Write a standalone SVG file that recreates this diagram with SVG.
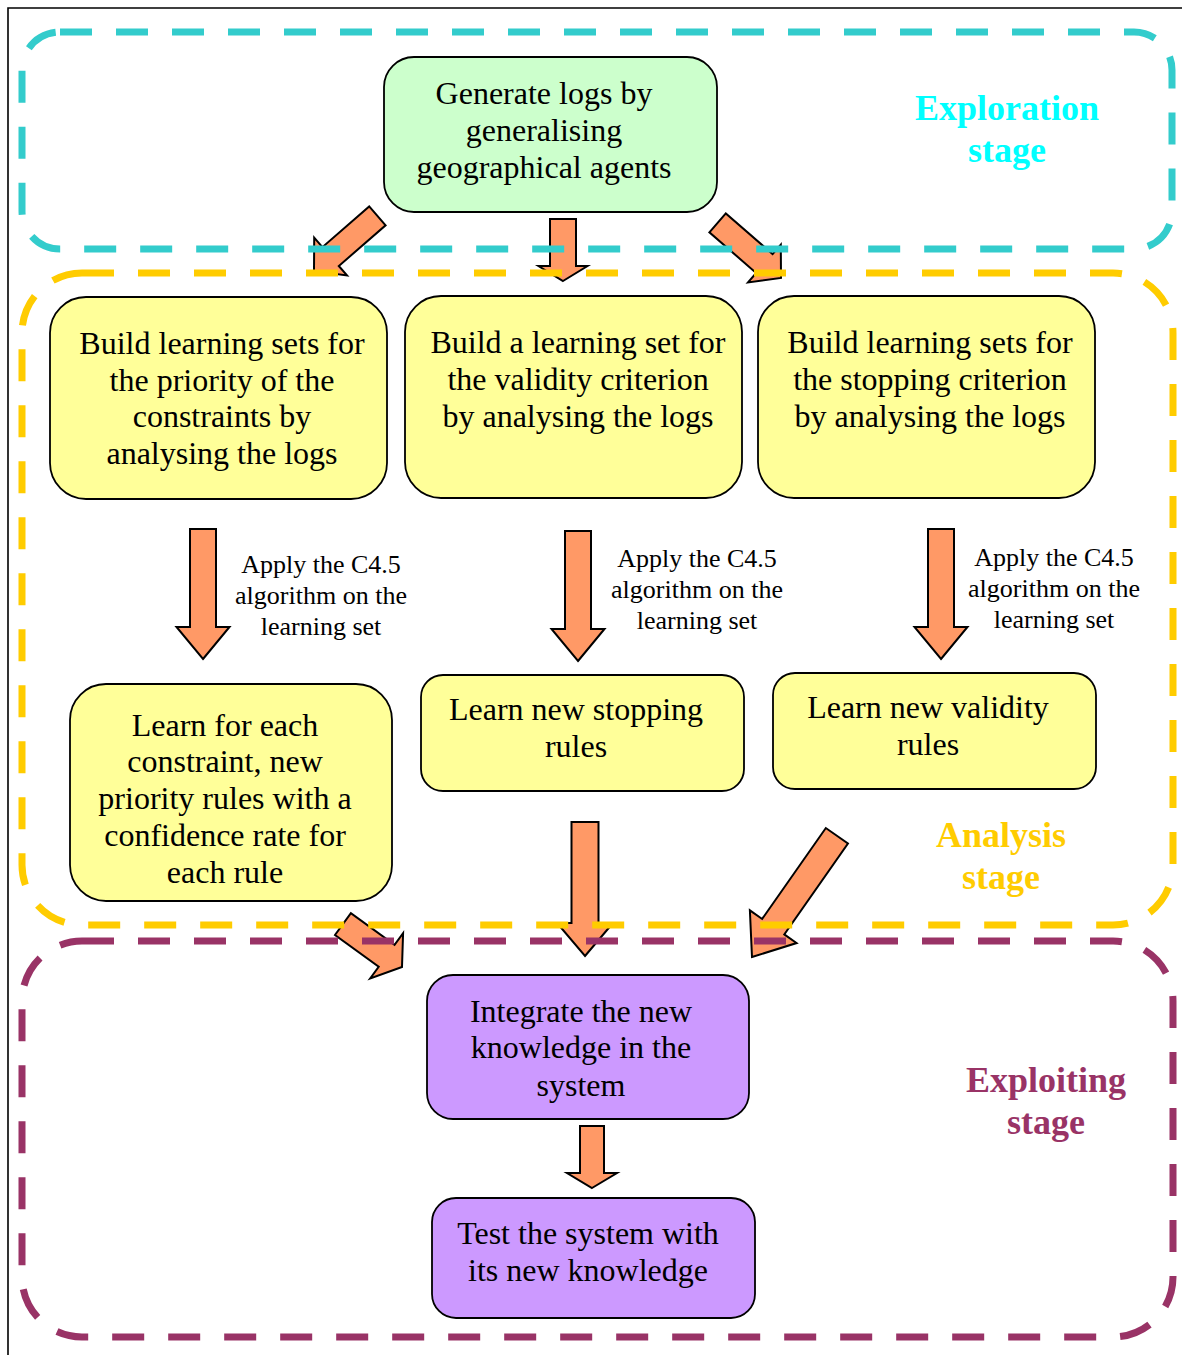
<svg xmlns="http://www.w3.org/2000/svg" width="1182" height="1355" viewBox="0 0 1182 1355">
<style>
.frame{fill:none;stroke:#000;stroke-width:1.6}
.stage{fill:none;stroke-width:7;stroke-dasharray:32 24}
.green{fill:#CCFFCC;stroke:#000;stroke-width:1.8}
.yellow{fill:#FFFF99;stroke:#000;stroke-width:1.8}
.purple{fill:#CC99FF;stroke:#000;stroke-width:1.8}
.arrow{fill:#FF9966;stroke:#000;stroke-width:2;stroke-linejoin:miter}
.t{font-family:"Liberation Serif","Times New Roman",serif;font-size:32px;text-anchor:middle;fill:#000}
.lbl{font-family:"Liberation Serif","Times New Roman",serif;font-size:26px;text-anchor:middle;fill:#000}
.st{font-family:"Liberation Serif","Times New Roman",serif;font-size:36px;font-weight:bold;text-anchor:middle}
</style>
<rect width="1182" height="1355" fill="#fff"/>
<path class="frame" d="M8,1355 V8 H1182"/>

<g id="connectors">
<polygon class="arrow" transform="translate(314,271) rotate(139)" points="0,0 -22,-25 -22,-12.5 -84,-12.5 -84,12.5 -22,12.5 -22,25"/>
<polygon class="arrow" transform="translate(563,281) rotate(90)" points="0,0 -15,-24.5 -15,-13 -62,-13 -62,13 -15,13 -15,24.5"/>
<polygon class="arrow" transform="translate(781,278) rotate(41)" points="0,0 -22,-25 -22,-12.5 -84,-12.5 -84,12.5 -22,12.5 -22,25"/>
<polygon class="arrow" transform="translate(203,659) rotate(90)" points="0,0 -32,-26.5 -32,-13 -130,-13 -130,13 -32,13 -32,26.5"/>
<polygon class="arrow" transform="translate(578,661) rotate(90)" points="0,0 -32,-26.5 -32,-13 -130,-13 -130,13 -32,13 -32,26.5"/>
<polygon class="arrow" transform="translate(941,659) rotate(90)" points="0,0 -32,-26.5 -32,-13 -130,-13 -130,13 -32,13 -32,26.5"/>
<polygon class="arrow" transform="translate(402,967) rotate(36)" points="0,0 -19,-28 -19,-13.5 -73,-13.5 -73,13.5 -19,13.5 -19,28"/>
<polygon class="arrow" transform="translate(585,956) rotate(90)" points="0,0 -33,-28 -33,-13.5 -134,-13.5 -134,13.5 -33,13.5 -33,28"/>
<polygon class="arrow" transform="translate(752,957) rotate(125)" points="0,0 -37,-28.5 -37,-13.5 -148,-13.5 -148,13.5 -37,13.5 -37,28.5"/>
<polygon class="arrow" transform="translate(592,1188) rotate(90)" points="0,0 -15,-25 -15,-12 -62,-12 -62,12 -15,12 -15,25"/>
</g>

<g id="stages">
<rect class="stage" x="22" y="32" width="1150" height="217" rx="38" stroke="#33CCCC"/>
<rect class="stage" x="22" y="273" width="1151" height="652" rx="60" stroke="#FFCC00"/>
<rect class="stage" x="22" y="941" width="1151" height="396" rx="60" stroke="#993366"/>
<text class="st" fill="#00FFFF"><tspan x="1007" y="120">Exploration</tspan><tspan x="1007" y="162">stage</tspan></text>
<text class="st" fill="#FFCC00"><tspan x="1001" y="847">Analysis</tspan><tspan x="1001" y="889">stage</tspan></text>
<text class="st" fill="#993366"><tspan x="1046" y="1092">Exploiting</tspan><tspan x="1046" y="1134">stage</tspan></text>
</g>

<g id="n-generate">
<rect class="green" x="384" y="57" width="333" height="155" rx="30"/>
<text class="t"><tspan x="544" y="104">Generate logs by</tspan><tspan x="544" y="141">generalising</tspan><tspan x="544" y="178">geographical agents</tspan></text>
</g>
<g id="n-build-priority">
<rect class="yellow" x="50" y="297" width="337" height="202" rx="36"/>
<text class="t"><tspan x="222" y="354">Build learning sets for</tspan><tspan x="222" y="391">the priority of the</tspan><tspan x="222" y="427">constraints by</tspan><tspan x="222" y="464">analysing the logs</tspan></text>
</g>
<g id="n-build-validity">
<rect class="yellow" x="405" y="296" width="337" height="202" rx="36"/>
<text class="t"><tspan x="578" y="353">Build a learning set for</tspan><tspan x="578" y="390">the validity criterion</tspan><tspan x="578" y="427">by analysing the logs</tspan></text>
</g>
<g id="n-build-stopping">
<rect class="yellow" x="758" y="296" width="337" height="202" rx="36"/>
<text class="t"><tspan x="930" y="353">Build learning sets for</tspan><tspan x="930" y="390">the stopping criterion</tspan><tspan x="930" y="427">by analysing the logs</tspan></text>
</g>
<g id="lbl-1">
<text class="lbl"><tspan x="321" y="573">Apply the C4.5</tspan><tspan x="321" y="604">algorithm on the</tspan><tspan x="321" y="635">learning set</tspan></text>
</g>
<g id="lbl-2">
<text class="lbl"><tspan x="697" y="567">Apply the C4.5</tspan><tspan x="697" y="598">algorithm on the</tspan><tspan x="697" y="629">learning set</tspan></text>
</g>
<g id="lbl-3">
<text class="lbl"><tspan x="1054" y="566">Apply the C4.5</tspan><tspan x="1054" y="597">algorithm on the</tspan><tspan x="1054" y="628">learning set</tspan></text>
</g>
<g id="n-learn-priority">
<rect class="yellow" x="70" y="684" width="322" height="217" rx="36"/>
<text class="t"><tspan x="225" y="736">Learn for each</tspan><tspan x="225" y="772">constraint, new</tspan><tspan x="225" y="809">priority rules with a</tspan><tspan x="225" y="846">confidence rate for</tspan><tspan x="225" y="883">each rule</tspan></text>
</g>
<g id="n-learn-stopping">
<rect class="yellow" x="421" y="675" width="323" height="116" rx="22"/>
<text class="t"><tspan x="576" y="720">Learn new stopping</tspan><tspan x="576" y="757">rules</tspan></text>
</g>
<g id="n-learn-validity">
<rect class="yellow" x="773" y="673" width="323" height="116" rx="22"/>
<text class="t"><tspan x="928" y="718">Learn new validity</tspan><tspan x="928" y="755">rules</tspan></text>
</g>
<g id="n-integrate">
<rect class="purple" x="427" y="975" width="322" height="144" rx="26"/>
<text class="t"><tspan x="581" y="1022">Integrate the new</tspan><tspan x="581" y="1058">knowledge in the</tspan><tspan x="581" y="1096">system</tspan></text>
</g>
<g id="n-test">
<rect class="purple" x="432" y="1198" width="323" height="120" rx="24"/>
<text class="t"><tspan x="588" y="1244">Test the system with</tspan><tspan x="588" y="1281">its new knowledge</tspan></text>
</g>
</svg>
